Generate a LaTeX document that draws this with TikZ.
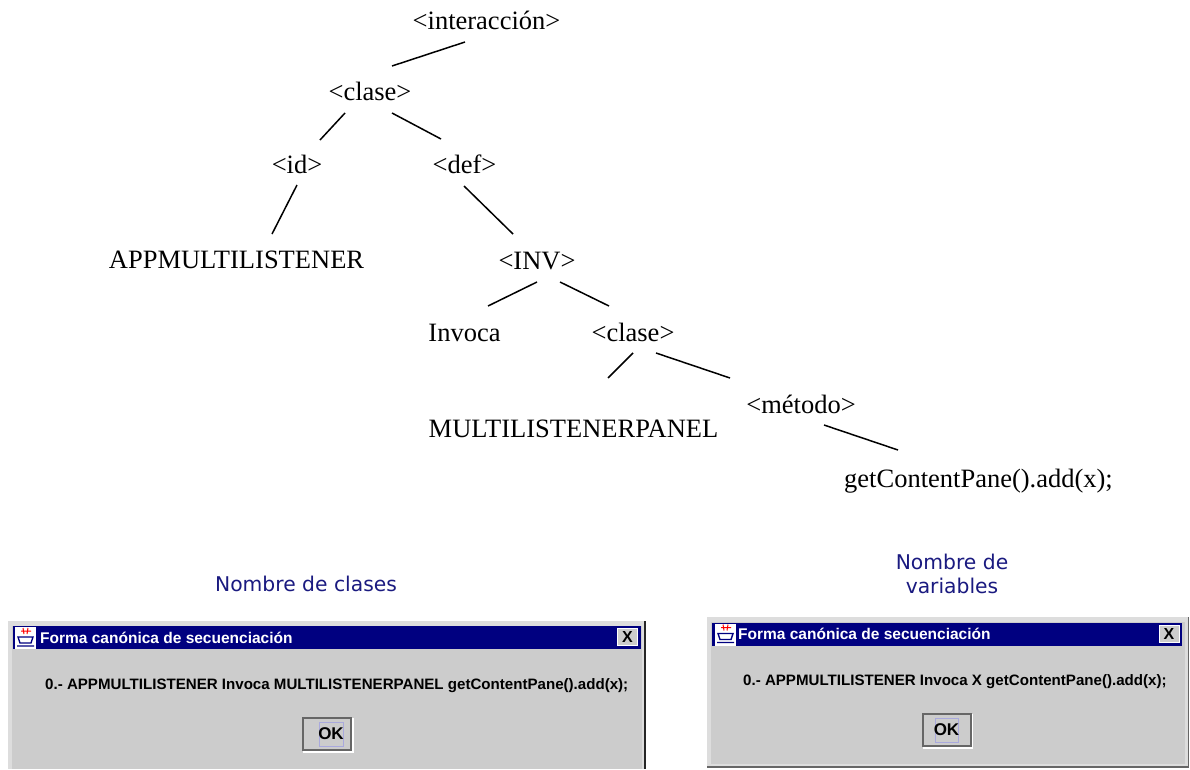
\documentclass[tikz,border=0pt]{standalone}
\usepackage{fontspec}
\setmainfont{Liberation Serif}
\newfontfamily\dlgfont{Liberation Sans}[BoldFont={Liberation Sans Bold}]
\newfontfamily\lblfont{DejaVu Sans}
\definecolor{dlggray}{HTML}{CCCCCC}
\definecolor{dlglight}{HTML}{DDDDDD}
\definecolor{titleblue}{HTML}{000080}
\definecolor{lblblue}{HTML}{1A1A80}
\definecolor{edgegray}{HTML}{666666}
\definecolor{focusblue}{HTML}{A9A9DD}
\tikzset{
  tree/.style={font=\fontsize{26.5}{30}\selectfont,inner sep=0pt,text=black,anchor=base},
  edge/.style={draw=black,line width=1.5pt},
  lbl/.style={font=\lblfont\fontsize{20.3}{23.5}\selectfont,text=lblblue,align=center,inner sep=0pt},
  dlgtext/.style={font=\dlgfont\bfseries\fontsize{15.1}{18}\selectfont,inner sep=0pt,anchor=west,text=black},
  dlgtitle/.style={font=\dlgfont\bfseries\fontsize{15.5}{18}\selectfont,inner sep=0pt,anchor=west,text=white},
  okbox/.style={fill=dlggray,draw=edgegray,line width=2pt,minimum width=48pt,minimum height=32pt,inner sep=0pt},
  oktext/.style={font=\dlgfont\bfseries\fontsize{17}{18}\selectfont,inner sep=0pt},
  xbtn/.style={fill=dlggray,draw=white,line width=.8pt,minimum width=20pt,minimum height=17pt,inner sep=0pt,font=\dlgfont\bfseries\fontsize{16}{16}\selectfont},
  focusr/.style={draw=focusblue,line width=.8pt}
}
\newcommand{\dlgicon}[2]{%
  \fill[white] (#1,#2) rectangle ++(21,-22);
  \draw[red,line width=1pt] (#1+6,#2-4) -- ++(10,0) (#1+8,#2-1) -- ++(1,-6) (#1+13,#2-1) -- ++(-1,-6);
  \draw[titleblue,line width=1.4pt] (#1+3,#2-10) -- ++(15,0) -- ++(-2,-6) -- ++(-11,0) -- cycle (#1+2,#2-19) -- ++(17,0);
}
\begin{document}
\begin{tikzpicture}[x=1pt,y=1pt]
\useasboundingbox (0,0) rectangle (1190,-769);
\fill[white] (0,0) rectangle (1190,-769);
% tree
\node[tree] (inter) at (486.5,-29) {<interacción>};
\node[tree] (clase) at (370,-100) {<clase>};
\node[tree] (id) at (297,-173) {<id>};
\node[tree] (def) at (464.5,-173) {<def>};
\node[tree] (app) at (236.5,-268) {APPMULTILISTENER};
\node[tree] (inv) at (537,-269) {<INV>};
\node[tree] (invoca) at (464.5,-341) {Invoca};
\node[tree] (clase2) at (633,-341) {<clase>};
\node[tree] (metodo) at (801,-413) {<método>};
\node[tree] (multi) at (573.5,-437) {MULTILISTENERPANEL};
\node[tree] (get) at (978.5,-487) {getContentPane().add(x);};
\draw[edge] ([shift={(-21.5,-13)}]inter.base) -- ([shift={(22,34)}]clase.base);
\draw[edge] ([shift={(-25,-13)}]clase.base) -- ([shift={(23,33)}]id.base);
\draw[edge] ([shift={(22,-13)}]clase.base) -- ([shift={(-23.5,34)}]def.base);
\draw[edge] ([shift={(0,-12)}]id.base) -- ([shift={(35.5,34)}]app.base);
\draw[edge] ([shift={(-0.5,-13)}]def.base) -- ([shift={(-24,35)}]inv.base);
\draw[edge] ([shift={(0,-13)}]inv.base) -- ([shift={(23.5,35)}]invoca.base);
\draw[edge] ([shift={(23,-13)}]inv.base) -- ([shift={(-24,35)}]clase2.base);
\draw[edge] ([shift={(0,-12)}]clase2.base) -- ([shift={(34.5,59)}]multi.base);
\draw[edge] ([shift={(23,-12)}]clase2.base) -- ([shift={(-71,35)}]metodo.base);
\draw[edge] ([shift={(23,-12)}]metodo.base) -- ([shift={(-80.5,37)}]get.base);
% captions
\node[lbl] (capa) at (306,-584) {Nombre de clases};
\node[lbl] (capb) at (952,-574) {Nombre de\\variables};
% left dialog
\fill[dlglight] (8,-621) rectangle (645,-769);
\fill[dlggray] (12,-626) rectangle (642,-769);
\fill[black!85] (643.5,-621) rectangle (645.5,-769);
\fill[titleblue] (13,-626) rectangle (641,-649);
\dlgicon{15}{-627}
\node[dlgtitle] (tta) at (40,-638) {Forma canónica de secuenciación};
\node[xbtn] (xa) at (627.5,-637) {X};
\node[dlgtext] (txa) at (45,-685.5) {0.- APPMULTILISTENER Invoca MULTILISTENERPANEL getContentPane().add(x);};
\draw[white,line width=1.5pt] (303,-752) -- (353,-752) -- (353,-718);
\node[okbox] (oka) at (327,-734) {};
\draw[focusr] (319,-722) rectangle (343,-746);
\node[oktext] (oktxa) at (331,-734) {OK};
% right dialog
\fill[edgegray] (707,-617) rectangle (1189,-768);
\fill[dlglight] (707,-617) rectangle (1187.5,-766);
\fill[dlggray] (711,-622) rectangle (1185,-764);
\fill[titleblue] (712,-623) rectangle (1182,-646);
\dlgicon{715}{-623.5}
\node[dlgtitle] (ttb) at (738,-634) {Forma canónica de secuenciación};
\node[xbtn] (xb) at (1169,-633.5) {X};
\node[dlgtext] (txb) at (743,-681.5) {0.- APPMULTILISTENER Invoca X getContentPane().add(x);};
\draw[white,line width=1.5pt] (923,-748) -- (972,-748) -- (972,-714);
\node[okbox] (okb) at (946.5,-730) {};
\draw[focusr] (935,-718) rectangle (958,-742);
\node[oktext] (oktxb) at (946.5,-730) {OK};
\end{tikzpicture}
\end{document}
